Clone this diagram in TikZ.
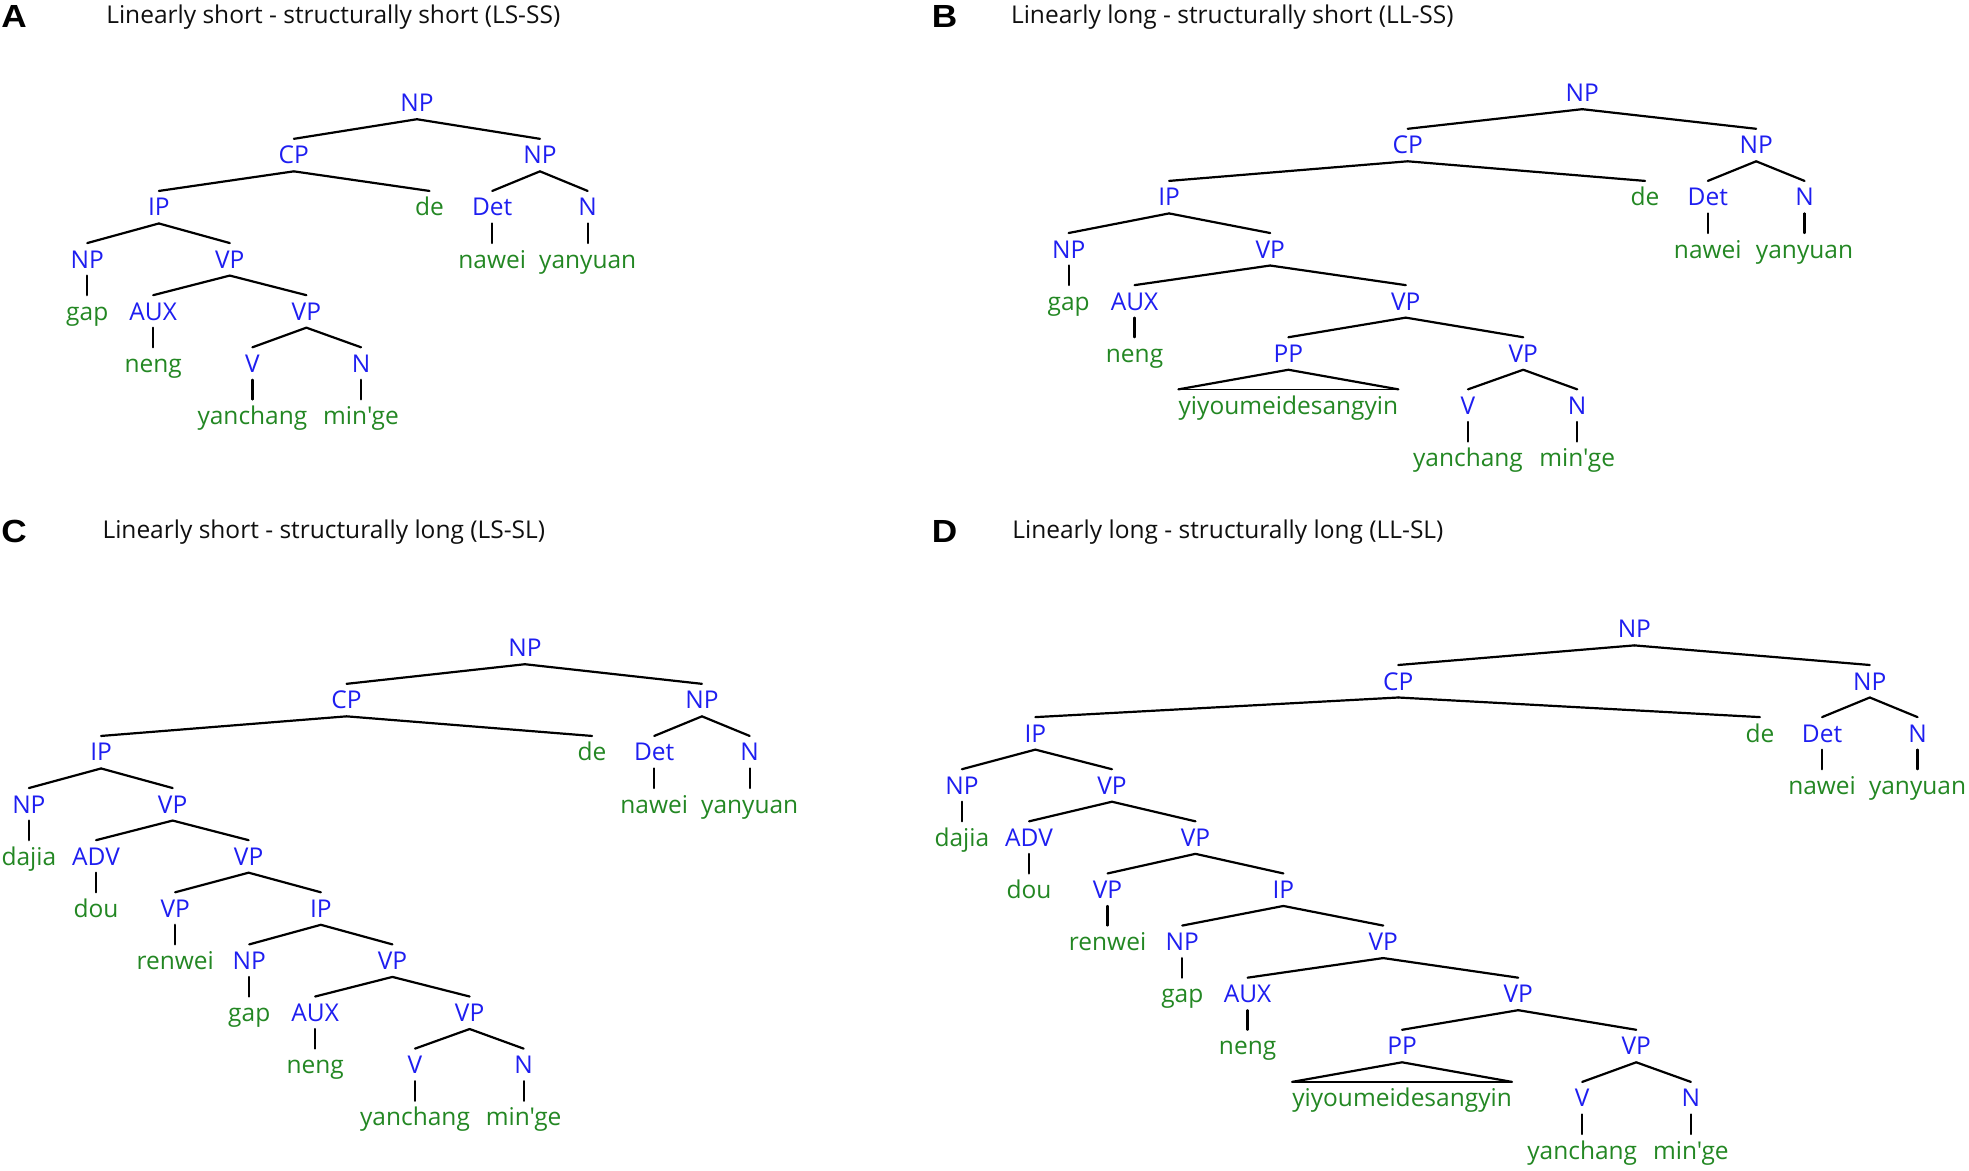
\documentclass[tikz,border=0pt]{standalone}
\usepackage{fontspec}
\newfontfamily\labfont{Open Sans}[Ligatures=TeXOff]
\newfontfamily\letfont{Liberation Sans}[FakeStretch=1.1]
\definecolor{catblue}{RGB}{30,30,240}
\definecolor{wordgreen}{RGB}{35,135,35}
\definecolor{titlegray}{RGB}{15,15,15}
\tikzset{
  lab/.style={inner sep=0pt, outer ysep=7.5pt, text height=17.5pt, text depth=0pt, anchor=center,
    font=\labfont\fontsize{24.5}{29}\selectfont},
  cat/.style={lab, text=catblue},
  wrd/.style={lab, text=wordgreen},
  br/.style={line width=2.2pt, line cap=round, black},
  trib/.style={line width=1.3pt, black},
  ttl/.style={anchor=base west, inner sep=0pt, text=titlegray, font=\labfont\fontsize{24.5}{29}\selectfont},
  plet/.style={anchor=base west, inner sep=0pt, font=\letfont\bfseries\fontsize{32}{36}\selectfont}
}
\begin{document}
\begin{tikzpicture}[x=1.2557pt, y=-1.2557pt]
\useasboundingbox (0,0) rectangle (1568,932);
% ---------------- titles ----------------
\node[plet] (LA) at (1,22) {A};
\node[ttl] (TA) at (84.5,19.1) {Linearly short - structurally short (LS-SS)};
\node[plet] (LB) at (742,22) {B};
\node[ttl] (TB) at (805,19.1) {Linearly long - structurally short (LL-SS)};
\node[plet] (LC) at (1,432) {C};
\node[ttl] (TC) at (81.5,429.2) {Linearly short - structurally long (LS-SL)};
\node[plet] (LD) at (742,432) {D};
\node[ttl] (TD) at (806,429.2) {Linearly long - structurally long (LL-SL)};
% ---------------- panel A ----------------
\node[cat] (a0) at (332,82) {NP};
\node[cat] (a1) at (234,123.5) {CP};
\node[cat] (a2) at (430,123.5) {NP};
\node[cat] (a3) at (126.5,165) {IP};
\node[wrd] (a4) at (342,165) {de};
\node[cat] (a5) at (392,165) {Det};
\node[cat] (a6) at (468,165) {N};
\node[cat] (a7) at (69.5,206.5) {NP};
\node[cat] (a8) at (183,206.5) {VP};
\node[wrd] (a9) at (392,206.5) {nawei};
\node[wrd] (a10) at (468,206.5) {yanyuan};
\node[wrd] (a11) at (69.5,248) {gap};
\node[cat] (a12) at (122,248) {AUX};
\node[cat] (a13) at (244,248) {VP};
\node[wrd] (a14) at (122,289.5) {neng};
\node[cat] (a15) at (201,289.5) {V};
\node[cat] (a16) at (287.5,289.5) {N};
\node[wrd] (a17) at (201,331) {yanchang};
\node[wrd] (a18) at (287.5,331) {min'ge};
\foreach \p/\c in {a0/a1,a0/a2,a1/a3,a1/a4,a2/a5,a2/a6,a3/a7,a3/a8,a5/a9,a6/a10,
  a7/a11,a8/a12,a8/a13,a12/a14,a13/a15,a13/a16,a15/a17,a16/a18}
  \draw[br] (\p.south) -- (\c.north);
% ---------------- panel B ----------------
\node[cat] (b0) at (1260,74) {NP};
\node[cat] (b1) at (1121,115.5) {CP};
\node[cat] (b2) at (1398.5,115.5) {NP};
\node[cat] (b3) at (931,157) {IP};
\node[wrd] (b4) at (1310,157) {de};
\node[cat] (b5) at (1360,157) {Det};
\node[cat] (b6) at (1437,157) {N};
\node[cat] (b7) at (851,198.5) {NP};
\node[cat] (b8) at (1011.5,198.5) {VP};
\node[wrd] (b9) at (1360,198.5) {nawei};
\node[wrd] (b10) at (1437,198.5) {yanyuan};
\node[wrd] (b11) at (851,240) {gap};
\node[cat] (b12) at (903.5,240) {AUX};
\node[cat] (b13) at (1119.5,240) {VP};
\node[wrd] (b14) at (903.5,281.5) {neng};
\node[cat] (b15) at (1026,281.5) {PP};
\node[cat] (b16) at (1213,281.5) {VP};
\node[wrd] (b17) at (1026,323) {yiyoumeidesangyin};
\node[cat] (b18) at (1169,323) {V};
\node[cat] (b19) at (1256,323) {N};
\node[wrd] (b20) at (1169,364.5) {yanchang};
\node[wrd] (b21) at (1256,364.5) {min'ge};
\foreach \p/\c in {b0/b1,b0/b2,b1/b3,b1/b4,b2/b5,b2/b6,b3/b7,b3/b8,b5/b9,b6/b10,
  b7/b11,b8/b12,b8/b13,b12/b14,b13/b15,b13/b16,b16/b18,b16/b19,b18/b20,b19/b21}
  \draw[br] (\p.south) -- (\c.north);
\draw[br] (b17.north west) -- (b15.south) -- (b17.north east);
\draw[trib] (b17.north west) -- (b17.north east);
% ---------------- panel C ----------------
\node[cat] (c0) at (418,516) {NP};
\node[cat] (c1) at (276,557.5) {CP};
\node[cat] (c2) at (559,557.5) {NP};
\node[cat] (c3) at (80.5,599) {IP};
\node[wrd] (c4) at (471.5,599) {de};
\node[cat] (c5) at (521,599) {Det};
\node[cat] (c6) at (597,599) {N};
\node[cat] (c7) at (23,640.5) {NP};
\node[cat] (c8) at (137.5,640.5) {VP};
\node[wrd] (c9) at (521,640.5) {nawei};
\node[wrd] (c10) at (597,640.5) {yanyuan};
\node[wrd] (c11) at (23,682) {dajia};
\node[cat] (c12) at (76.5,682) {ADV};
\node[cat] (c13) at (198,682) {VP};
\node[wrd] (c14) at (76.5,723.5) {dou};
\node[cat] (c15) at (139.5,723.5) {VP};
\node[cat] (c16) at (255.5,723.5) {IP};
\node[wrd] (c17) at (139.5,765) {renwei};
\node[cat] (c18) at (198.5,765) {NP};
\node[cat] (c19) at (312.5,765) {VP};
\node[wrd] (c20) at (198.5,806.5) {gap};
\node[cat] (c21) at (251,806.5) {AUX};
\node[cat] (c22) at (374,806.5) {VP};
\node[wrd] (c23) at (251,848) {neng};
\node[cat] (c24) at (330.5,848) {V};
\node[cat] (c25) at (417,848) {N};
\node[wrd] (c26) at (330.5,889.5) {yanchang};
\node[wrd] (c27) at (417,889.5) {min'ge};
\foreach \p/\c in {c0/c1,c0/c2,c1/c3,c1/c4,c2/c5,c2/c6,c3/c7,c3/c8,c5/c9,c6/c10,
  c7/c11,c8/c12,c8/c13,c12/c14,c13/c15,c13/c16,c15/c17,c16/c18,c16/c19,c18/c20,
  c19/c21,c19/c22,c21/c23,c22/c24,c22/c25,c24/c26,c25/c27}
  \draw[br] (\p.south) -- (\c.north);
% ---------------- panel D ----------------
\node[cat] (d0) at (1301.5,501) {NP};
\node[cat] (d1) at (1113.5,542.5) {CP};
\node[cat] (d2) at (1489,542.5) {NP};
\node[cat] (d3) at (824.5,584) {IP};
\node[wrd] (d4) at (1401.5,584) {de};
\node[cat] (d5) at (1451,584) {Det};
\node[cat] (d6) at (1527,584) {N};
\node[cat] (d7) at (766,625.5) {NP};
\node[cat] (d8) at (885.5,625.5) {VP};
\node[wrd] (d9) at (1451,625.5) {nawei};
\node[wrd] (d10) at (1527,625.5) {yanyuan};
\node[wrd] (d11) at (766,667) {dajia};
\node[cat] (d12) at (819.5,667) {ADV};
\node[cat] (d13) at (952,667) {VP};
\node[wrd] (d14) at (819.5,708.5) {dou};
\node[cat] (d15) at (882,708.5) {VP};
\node[cat] (d16) at (1022,708.5) {IP};
\node[wrd] (d17) at (882,750) {renwei};
\node[cat] (d18) at (941.5,750) {NP};
\node[cat] (d19) at (1101.5,750) {VP};
\node[wrd] (d20) at (941.5,791.5) {gap};
\node[cat] (d21) at (993.5,791.5) {AUX};
\node[cat] (d22) at (1209,791.5) {VP};
\node[wrd] (d23) at (993.5,833) {neng};
\node[cat] (d24) at (1116.5,833) {PP};
\node[cat] (d25) at (1303,833) {VP};
\node[wrd] (d26) at (1116.5,874.5) {yiyoumeidesangyin};
\node[cat] (d27) at (1260,874.5) {V};
\node[cat] (d28) at (1346.5,874.5) {N};
\node[wrd] (d29) at (1260,916) {yanchang};
\node[wrd] (d30) at (1346.5,916) {min'ge};
\foreach \p/\c in {d0/d1,d0/d2,d1/d3,d1/d4,d2/d5,d2/d6,d3/d7,d3/d8,d5/d9,d6/d10,
  d7/d11,d8/d12,d8/d13,d12/d14,d13/d15,d13/d16,d15/d17,d16/d18,d16/d19,d18/d20,
  d19/d21,d19/d22,d21/d23,d22/d24,d22/d25,d25/d27,d25/d28,d27/d29,d28/d30}
  \draw[br] (\p.south) -- (\c.north);
\draw[br] (d26.north west) -- (d24.south) -- (d26.north east);
\draw[trib] (d26.north west) -- (d26.north east);
\end{tikzpicture}
\end{document}
